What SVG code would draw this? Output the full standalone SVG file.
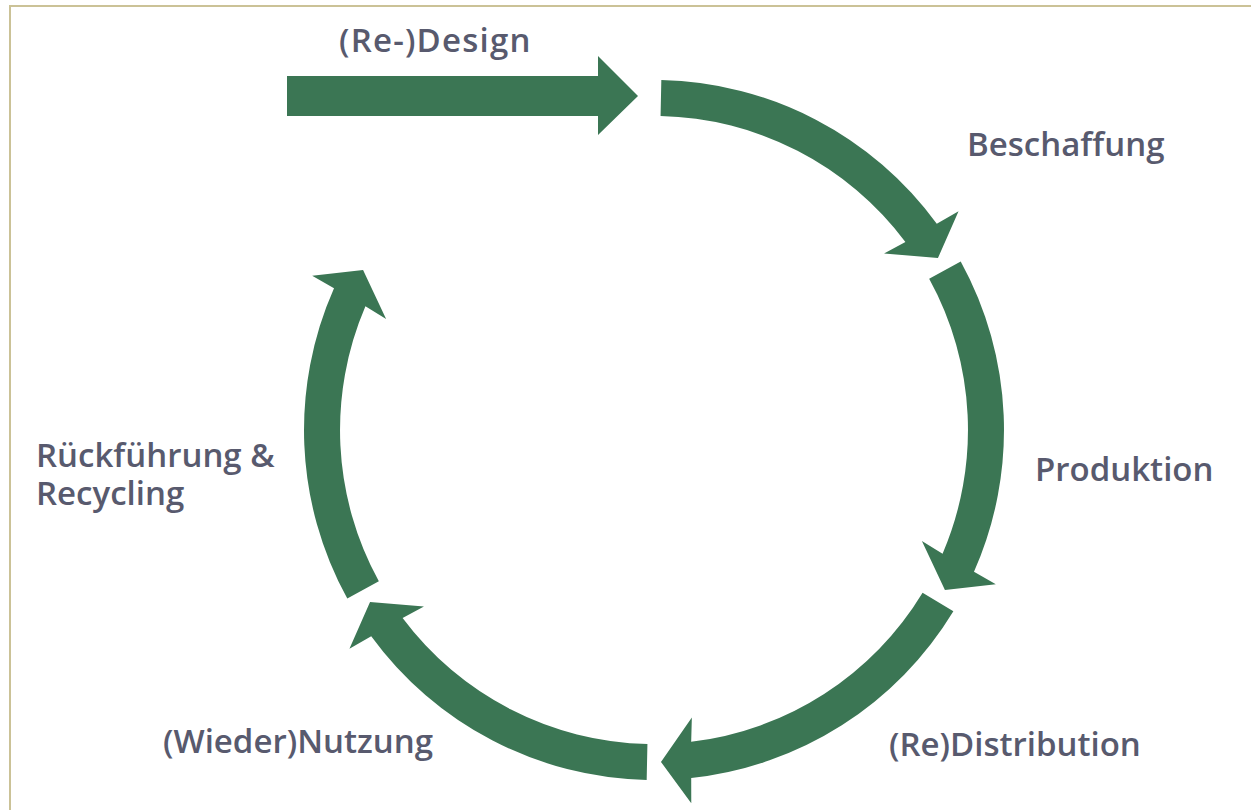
<svg xmlns="http://www.w3.org/2000/svg" xmlns:xlink="http://www.w3.org/1999/xlink" width="1251" height="810" viewBox="0 0 1251 810">
  <style>
    .lbl { font-family: "Open Sans", "Noto Sans", "Liberation Sans", sans-serif; font-weight: 600; font-size: 33px; fill: #585a6e; }
    .arr { fill: #3b7654; }
  </style>
  <defs>
    <path id="seg" d="M350,0 A350,350 0 0 1 212.1,278.4 L225.2,299.9 L177.9,280.3 L181.3,226.3 L193.3,247.4 A314,314 0 0 0 314,0 Z"/>
  </defs>
  <rect x="0" y="0" width="1251" height="810" fill="#ffffff"/>
  <rect x="10" y="6" width="1260" height="820" fill="none" stroke="#cbc297" stroke-width="2"/>

  <g id="connectors">
    <g id="arrow-design">
      <path class="arr" d="M287,76 L598,76 L598,56 L638,96 L598,135 L598,116 L287,116 Z"/>
    </g>
    <g transform="translate(654,430)">
      <use id="arrow-beschaffung" class="arr" xlink:href="#seg" transform="rotate(-88.8)"/>
      <use id="arrow-produktion" class="arr" xlink:href="#seg" transform="rotate(-28.8)"/>
      <use id="arrow-distribution" class="arr" xlink:href="#seg" transform="rotate(31.2)"/>
      <use id="arrow-nutzung" class="arr" xlink:href="#seg" transform="rotate(91.2)"/>
      <use id="arrow-recycling" class="arr" xlink:href="#seg" transform="rotate(151.2)"/>
    </g>
  </g>

  <g id="node-design"><text class="lbl" x="339" y="52" letter-spacing="1.2">(Re-)Design</text></g>
  <g id="node-beschaffung"><text class="lbl" x="967" y="156">Beschaffung</text></g>
  <g id="node-produktion"><text class="lbl" x="1035" y="481">Produktion</text></g>
  <g id="node-distribution"><text class="lbl" x="889" y="756">(Re)Distribution</text></g>
  <g id="node-nutzung"><text class="lbl" x="163" y="753">(Wieder)Nutzung</text></g>
  <g id="node-recycling">
    <text class="lbl" x="36" y="467">Rückführung &amp;</text>
    <text class="lbl" x="36" y="505">Recycling</text>
  </g>
</svg>
